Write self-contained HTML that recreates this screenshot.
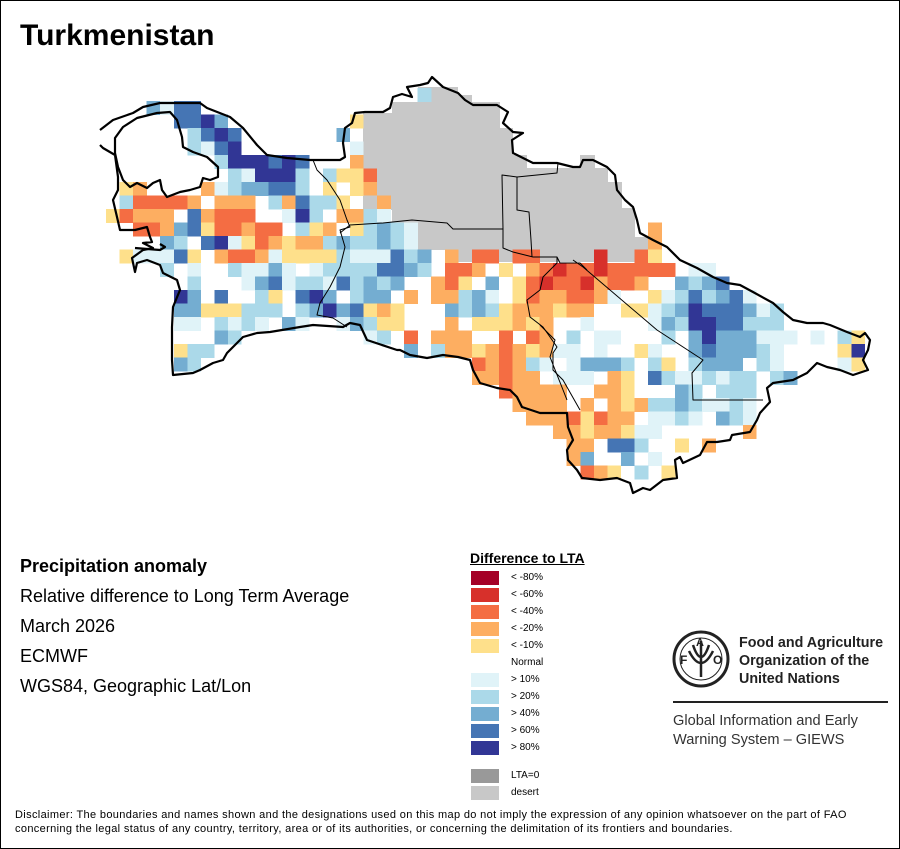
<!DOCTYPE html>
<html><head><meta charset="utf-8"><style>
html,body{margin:0;padding:0;background:#fff}
#w{position:relative;width:898px;height:847px;border:1px solid #000;overflow:hidden;font-family:"Liberation Sans",sans-serif}
.t{position:absolute;white-space:nowrap;color:#000}
</style></head><body><div id="w">
<svg id="map" width="898" height="847" style="position:absolute;left:0;top:0" xmlns="http://www.w3.org/2000/svg">
<g transform="translate(-1,-1)">
<polygon fill="#c8c8c8" points="363,113 392,113 392,102 418,102 418,87 458,87 458,95 472,95 472,102 500,102 500,128 513,128 513,155 527,155 527,168 580,168 580,155 595,155 595,168 608,168 608,182 622,182 622,208 635,208 635,237 650,237 650,262 445,262 445,250 418,250 418,223 392,223 392,210 363,210"/>
<g id="cells" shape-rendering="crispEdges"></g>
<g fill="none" stroke="#000" stroke-width="1" stroke-linejoin="round">
<polyline points="313,160 317,170 327,180 340,200 347,220 350,227 340,230 345,247 340,267 330,287 320,303 317,315 333,318 347,327"/>
<polyline points="340,233 350,225 383,223 412,220 447,223 453,229 503,229 503,248 513,252 533,257 557,257 560,263 580,263 587,270"/>
<polyline points="503,229 502,175 517,177 557,173 558,163"/>
<polyline points="517,177 517,210 529,212 531,240 532,257"/>
<polyline points="573,260 583,267 657,330 703,360 692,373 693,400 763,400"/>
<polyline points="557,257 557,263 543,277 540,290 527,300 530,317 543,327 557,347 553,353 553,370 563,380 580,410"/>
<polyline points="540,325 555,340 550,357 567,400"/>
</g>
<g fill="none" stroke="#000" stroke-width="2.2" stroke-linejoin="round">
<polyline points="100,130 113,120 133,113 143,107 160,103 200,103 207,108 230,117 243,128 257,145 267,155 287,158 310,160 340,160 345,157 343,143 345,128 352,123 355,113 365,112 383,112 390,108 393,97 402,94 412,97 407,87 420,85 428,83 432,77 443,87 458,93 465,100 473,105 497,105 508,112 503,123 513,132 523,133 512,140 513,153 527,160 533,163 557,163 573,167 580,167 583,160 593,160 607,167 615,175 617,190 625,200 633,207 637,220 640,233 653,240 667,247 680,260 697,268 713,277 727,283 740,285 753,292 773,303 783,312 793,320 807,323 823,323 830,325 847,332 860,337 865,333 870,340 868,350 863,360 868,370 862,372 853,375 840,370 827,367 817,363 807,373 793,380 773,383 767,388 770,402 760,413 757,420 750,432 732,435 730,440 717,442 707,442 700,455 683,463 680,457 675,460 677,478 663,480 650,490 643,488 633,493 630,483 617,478 600,480 582,478 577,470 568,460 567,450 573,440 568,427 567,413 540,413 522,407 517,397 510,390 497,388 480,383 473,370 470,360 458,357 443,355 427,358 410,355 400,350 397,350 367,340 360,325 350,323 343,327 313,325 300,327 270,332 257,333 243,337 233,347 227,353 223,360 213,363 200,370 193,373 173,375 172,360 172,327 173,307 180,290 177,280 163,273 160,265 147,260 137,263 135,272 132,258 143,250 153,248 143,243 152,242 150,237 147,227 135,230 120,230 117,217 113,200 118,190 118,177 115,155 103,148 100,145"/>
<polygon points="115,138 123,127 137,118 157,113 170,112 177,120 182,137 183,147 193,152 207,157 218,167 218,177 210,180 203,178 200,187 190,190 180,192 167,197 162,190 160,180 153,183 147,188 137,183 130,187 123,180 118,167 115,153"/>
<polyline points="135,248 160,250 165,247 160,244"/>
</g>
</g>
</svg>
<div class="t" style="left:19px;top:18px;font-size:30px;font-weight:bold">Turkmenistan</div>
<div class="t" style="left:19px;top:555px;font-size:18px;font-weight:bold">Precipitation anomaly</div>
<div class="t" style="left:19px;top:585px;font-size:18px">Relative difference to Long Term Average</div>
<div class="t" style="left:19px;top:615px;font-size:18px">March 2026</div>
<div class="t" style="left:19px;top:645px;font-size:18px">ECMWF</div>
<div class="t" style="left:19px;top:675px;font-size:18px">WGS84, Geographic Lat/Lon</div>
<div class="t" style="left:469px;top:549px;font-size:14px;font-weight:bold;text-decoration:underline">Difference to LTA</div>
<div id="leg"></div>
<svg width="60" height="60" style="position:absolute;left:670px;top:628px" viewBox="0 0 60 60">
<circle cx="30" cy="30" r="27" fill="none" stroke="#222" stroke-width="3"/>
<circle cx="30" cy="30" r="21" fill="none" stroke="#222" stroke-width="1"/>
<path d="M30 12 L30 48 M22 16 Q30 40 38 16 M18 22 Q30 46 42 22" fill="none" stroke="#222" stroke-width="2.5"/>
<text x="9" y="35" font-size="12" font-weight="bold" font-family="Liberation Sans" fill="#222">F</text>
<text x="25" y="17" font-size="11" font-weight="bold" font-family="Liberation Sans" fill="#222">A</text>
<text x="42" y="35" font-size="12" font-weight="bold" font-family="Liberation Sans" fill="#222">O</text>
</svg>
<div class="t" style="left:738px;top:633px;font-size:14.3px;font-weight:bold;line-height:18px;color:#222">Food and Agriculture<br>Organization of the<br>United Nations</div>
<div style="position:absolute;left:672px;top:700px;width:215px;height:2px;background:#222"></div>
<div class="t" style="left:672px;top:711px;font-size:14.6px;line-height:19px;color:#333">Global Information and Early<br>Warning System – GIEWS</div>
<div class="t" style="left:14px;top:807px;font-size:11px;letter-spacing:0.35px;line-height:14px">Disclaimer: The boundaries and names shown and the designations used on this map do not imply the expression of any opinion whatsoever on the part of FAO<br>concerning the legal status of any country, territory, area or of its authorities, or concerning the delimitation of its frontiers and boundaries.</div>
</div>
<script>
var C={R:'#d7302b',r:'#f46d43',o:'#fdae61',y:'#fee08b',a:'#e0f3f8',b:'#abd9e9',c:'#74add1',d:'#4575b4',e:'#313695',g:'#c8c8c8'};
var rows=[[0,3,"cadd"],[1,5,"ddec"],[1,18,"y"],[2,6,"bded"],[2,17,"c."],[3,6,"bade"],[3,18,"a"],
[4,8,"beeeded"],[4,18,"o"],[5,9,"baeeeb.byyr"],[6,1,"yo....oabccddb.y.yo"],[7,1,"brrrro.ooo.bodbby.go"],
[8,0,"yrooo.dorrr..aeb.ooba"],[9,2,"rrocdyrrorr.byo.ybcba"],[9,40,"o"],[10,4,"cb.deayroyoobcbbcba"],[10,40,"o"],
[11,1,"yaaady.orroayyyybaaad"],[11,22,"bc.o"],[11,27,"rr"],[11,30,"rr"],[11,36,"R"],[11,39,"ry"],
[12,4,"b.a..baaca.abbbbddcb.rro.y.orRrrRrrrrr.aa"],
[13,6,"b...acdabbadbcbc..ory.c.yrRrrRorro..cbcd"],
[14,5,"ec.d..by.dec.bcc.o.oobca.yroorroa..yabdbcda"],
[15,5,"ccyyybbb.bcecdyoy...cbcbyoooyoo..yyabcedddcab"],
[16,5,"aa.baba.ca..acbyy...o.yyyoyo..a....acbeeddbbb"],
[17,8,"cb"],[17,19,"ab.r.ooo..r.ro.b.aa...b.cecccaaa.a.by"],
[18,5,"ybb"],[18,22,"c.booyoroyoaa.a..ya..cdcccba"],[18,54,"ye"],
[19,5,"cb"],[19,27,"roroba.acccb.by.bccc.ba"],[19,54,"ay"],
[20,27,"ooroo.aa"],[20,35,"a.oy.dbaababb.bc"],[21,29,"roooo..ooy...cb.bbb"],
[22,30,"oooo.o.oyobbcbaaba"],[23,31,"ooo"],[23,34,"ryroo.aaba.cba"],[24,33,"o"],[24,34,"oyooyaa......o"],
[25,34,"oo.ddb..y.o"],[26,34,"oc..c.a"],[27,35,"roy.b.y"],[0,23,"b"]];
var s='';
rows.forEach(function(r){var j=r[0],i0=r[1],str=r[2];
 for(var k=0;k<str.length;k++){var ch=str[k];if(!C[ch])continue;var i=i0+k;
  var x=106+13.55*i,y=101+13.5*j;
  if(j==0&&i==23){y=88;}
  s+='<rect x="'+x.toFixed(1)+'" y="'+y.toFixed(1)+'" width="13.8" height="13.8" fill="'+C[ch]+'"/>';}});
document.getElementById('cells').innerHTML=s;
var L=[['#a50026','< -80%'],['#d7302b','< -60%'],['#f46d43','< -40%'],['#fdae61','< -20%'],['#fee08b','< -10%'],[null,'Normal'],['#e0f3f8','> 10%'],['#abd9e9','> 20%'],['#74add1','> 40%'],['#4575b4','> 60%'],['#313695','> 80%']];
var h='';
L.forEach(function(l,k){var y=570+17*k;
 if(l[0])h+='<div style="position:absolute;left:470px;top:'+y+'px;width:28px;height:14px;background:'+l[0]+'"></div>';
 h+='<div class="t" style="left:510px;top:'+(y+1)+'px;font-size:10px">'+l[1]+'</div>';});
[['#999','LTA=0',768],['#c8c8c8','desert',785]].forEach(function(l){
 h+='<div style="position:absolute;left:470px;top:'+l[2]+'px;width:28px;height:14px;background:'+l[0]+'"></div><div class="t" style="left:510px;top:'+(l[2]+1)+'px;font-size:10px">'+l[1]+'</div>';});
document.getElementById('leg').innerHTML=h;
</script>
</body></html>
